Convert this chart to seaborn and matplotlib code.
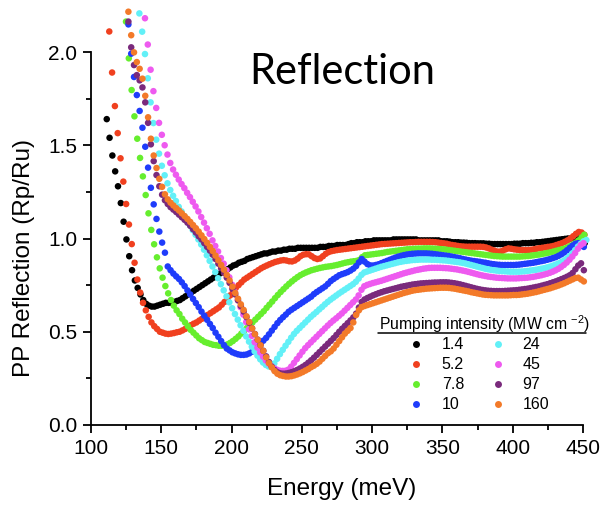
import numpy as np
import pandas as pd
import matplotlib
matplotlib.use("Agg")
import matplotlib.pyplot as plt
from matplotlib.lines import Line2D
from matplotlib.ticker import MultipleLocator, FormatStrFormatter
import seaborn as sns

# ---------------- data ----------------
intensity_labels = ["1.4", "5.2", "7.8", "10", "24", "45", "97", "160"]
series_colors = ["#000000", "#f0401f", "#66ee2e", "#1f3cfb",
                 "#62f0f7", "#ee5aef", "#7a2a7c", "#f37a29"]
start_energy = [111.2, 113.0, 124.9, 126.6, 134.4, 138.4, 126.6, 126.6]  # meV
energy_step = 2.0  # meV

refl_1_4 = [
    1.64, 1.54, 1.445, 1.36, 1.28, 1.19, 1.09, 0.995, 0.905, 0.83,
    0.775, 0.735, 0.70, 0.67, 0.65, 0.64, 0.635, 0.635, 0.64, 0.645,
    0.65, 0.655, 0.655, 0.655, 0.66, 0.665, 0.67, 0.68, 0.69, 0.70,
    0.71, 0.72, 0.73, 0.74, 0.75, 0.76, 0.77, 0.78, 0.79, 0.80,
    0.81, 0.82, 0.83, 0.835, 0.845, 0.855, 0.86, 0.87, 0.875, 0.88,
    0.89, 0.895, 0.90, 0.905, 0.91, 0.915, 0.92, 0.92, 0.925, 0.93,
    0.93, 0.935, 0.935, 0.94, 0.94, 0.945, 0.945, 0.945, 0.95, 0.95,
    0.95, 0.95, 0.95, 0.95, 0.95, 0.95, 0.955, 0.955, 0.955, 0.96,
    0.96, 0.96, 0.965, 0.965, 0.965, 0.965, 0.97, 0.975, 0.975, 0.98,
    0.98, 0.98, 0.985, 0.985, 0.985, 0.99, 0.99, 0.99, 0.99, 0.99,
    0.99, 0.99, 0.995, 0.995, 0.995, 0.995, 0.995, 0.995, 0.995, 0.995,
    0.995, 0.99, 0.99, 0.99, 0.99, 0.99, 0.99, 0.99, 0.99, 0.985,
    0.985, 0.985, 0.983, 0.98, 0.98, 0.98, 0.978, 0.978, 0.977, 0.975,
    0.975, 0.975, 0.974, 0.974, 0.974, 0.972, 0.972, 0.97, 0.97, 0.97,
    0.97, 0.97, 0.97, 0.97, 0.97, 0.972, 0.972, 0.972, 0.975, 0.975,
    0.975, 0.977, 0.977, 0.98, 0.98, 0.982, 0.984, 0.986, 0.988, 0.99,
    0.992, 0.994, 0.996, 0.998, 1.0, 1.0, 1.005, 1.01, 1.005, 0.99,
    0.975,
]

refl_5_2 = [
    2.11, 1.89, 1.71, 1.565, 1.43, 1.305, 1.185, 1.075, 0.97, 0.87,
    0.78, 0.71, 0.655, 0.615, 0.58, 0.55, 0.53, 0.515, 0.50, 0.495,
    0.49, 0.488, 0.49, 0.493, 0.497, 0.50, 0.507, 0.515, 0.525, 0.535,
    0.543, 0.55, 0.56, 0.57, 0.58, 0.59, 0.60, 0.61, 0.62, 0.63,
    0.645, 0.66, 0.675, 0.695, 0.715, 0.735, 0.75, 0.765, 0.78, 0.79,
    0.80, 0.81, 0.82, 0.83, 0.84, 0.848, 0.855, 0.862, 0.868, 0.874,
    0.878, 0.882, 0.884, 0.882, 0.878, 0.877, 0.882, 0.892, 0.905, 0.913,
    0.916, 0.915, 0.905, 0.895, 0.89, 0.893, 0.905, 0.918, 0.927, 0.932,
    0.935, 0.938, 0.94, 0.942, 0.944, 0.946, 0.948, 0.95, 0.952, 0.954,
    0.956, 0.958, 0.96, 0.962, 0.964, 0.966, 0.968, 0.97, 0.971, 0.972,
    0.973, 0.974, 0.975, 0.976, 0.977, 0.978, 0.979, 0.98, 0.98, 0.981,
    0.982, 0.982, 0.982, 0.982, 0.982, 0.981, 0.98, 0.978, 0.976, 0.974,
    0.972, 0.968, 0.965, 0.963, 0.96, 0.958, 0.957, 0.956, 0.956, 0.956,
    0.956, 0.956, 0.956, 0.955, 0.952, 0.947, 0.94, 0.935, 0.93, 0.93,
    0.935, 0.942, 0.947, 0.945, 0.942, 0.94, 0.938, 0.938, 0.938, 0.938,
    0.94, 0.942, 0.945, 0.948, 0.95, 0.952, 0.955, 0.957, 0.96, 0.965,
    0.97, 0.975, 0.982, 0.99, 1.0, 1.012, 1.025, 1.035, 1.032, 1.02,
]

refl_7_8 = [
    2.163, 1.966, 1.796, 1.655, 1.535, 1.432, 1.333, 1.233, 1.135, 1.046,
    0.969, 0.899, 0.84, 0.79, 0.745, 0.706, 0.67, 0.64, 0.615, 0.595,
    0.57, 0.55, 0.53, 0.51, 0.495, 0.48, 0.465, 0.455, 0.445, 0.44,
    0.435, 0.43, 0.428, 0.425, 0.425, 0.427, 0.432, 0.44, 0.45, 0.462,
    0.475, 0.49, 0.505, 0.52, 0.535, 0.55, 0.565, 0.58, 0.595, 0.61,
    0.628, 0.645, 0.662, 0.68, 0.697, 0.713, 0.728, 0.743, 0.757, 0.77,
    0.782, 0.793, 0.803, 0.811, 0.818, 0.824, 0.83, 0.834, 0.838, 0.842,
    0.845, 0.848, 0.85, 0.852, 0.855, 0.858, 0.862, 0.866, 0.87, 0.873,
    0.876, 0.878, 0.88, 0.885, 0.90, 0.91, 0.912, 0.914, 0.916, 0.918,
    0.92, 0.922, 0.925, 0.928, 0.93, 0.932, 0.934, 0.936, 0.938, 0.94,
    0.942, 0.943, 0.944, 0.945, 0.946, 0.946, 0.947, 0.947, 0.947, 0.946,
    0.945, 0.944, 0.943, 0.942, 0.94, 0.938, 0.936, 0.934, 0.932, 0.93,
    0.928, 0.926, 0.924, 0.922, 0.92, 0.918, 0.916, 0.914, 0.912, 0.91,
    0.908, 0.906, 0.905, 0.904, 0.903, 0.903, 0.903, 0.903, 0.903, 0.903,
    0.903, 0.904, 0.905, 0.906, 0.908, 0.91, 0.912, 0.914, 0.917, 0.92,
    0.923, 0.926, 0.93, 0.934, 0.938, 0.942, 0.946, 0.952, 0.96, 0.968,
    0.978, 0.99, 1.005, 1.02,
]

refl_10 = [
    2.148, 1.991, 1.866, 1.769, 1.684, 1.594, 1.492, 1.38, 1.272, 1.183,
    1.105, 1.037, 0.978, 0.924, 0.85, 0.83, 0.812, 0.797, 0.783, 0.765,
    0.745, 0.722, 0.70, 0.676, 0.654, 0.632, 0.608, 0.586, 0.564, 0.542,
    0.52, 0.495, 0.473, 0.45, 0.428, 0.41, 0.40, 0.39, 0.384, 0.379,
    0.376, 0.376, 0.378, 0.384, 0.393, 0.407, 0.422, 0.437, 0.452, 0.467,
    0.486, 0.506, 0.526, 0.546, 0.563, 0.578, 0.592, 0.607, 0.618, 0.628,
    0.638, 0.648, 0.658, 0.668, 0.678, 0.688, 0.702, 0.713, 0.723, 0.733,
    0.743, 0.757, 0.772, 0.783, 0.793, 0.803, 0.809, 0.814, 0.82, 0.828,
    0.838, 0.852, 0.872, 0.89, 0.876, 0.863, 0.856, 0.855, 0.858, 0.862,
    0.868, 0.874, 0.88, 0.886, 0.892, 0.898, 0.903, 0.907, 0.911, 0.914,
    0.916, 0.918, 0.919, 0.92, 0.92, 0.92, 0.92, 0.919, 0.918, 0.916,
    0.914, 0.912, 0.91, 0.908, 0.906, 0.903, 0.9, 0.897, 0.894, 0.89,
    0.887, 0.884, 0.881, 0.879, 0.877, 0.875, 0.872, 0.87, 0.867, 0.864,
    0.862, 0.86, 0.859, 0.858, 0.858, 0.858, 0.858, 0.858, 0.859, 0.86,
    0.862, 0.864, 0.866, 0.868, 0.87, 0.873, 0.876, 0.879, 0.882, 0.886,
    0.89, 0.895, 0.9, 0.907, 0.915, 0.925, 0.937, 0.95, 0.962, 0.972,
    0.975, 0.965, 0.955,
]

refl_24 = [
    2.207, 2.109, 1.989, 1.859, 1.73, 1.619, 1.53, 1.455, 1.39, 1.339,
    1.296, 1.26, 1.229, 1.201, 1.17, 1.145, 1.12, 1.095, 1.07, 1.045,
    1.02, 0.995, 0.968, 0.94, 0.91, 0.88, 0.85, 0.82, 0.787, 0.755,
    0.722, 0.69, 0.658, 0.626, 0.595, 0.565, 0.535, 0.505, 0.475, 0.447,
    0.42, 0.395, 0.372, 0.352, 0.335, 0.322, 0.314, 0.315, 0.33, 0.355,
    0.38, 0.403, 0.425, 0.446, 0.468, 0.488, 0.505, 0.52, 0.535, 0.55,
    0.565, 0.58, 0.593, 0.606, 0.62, 0.633, 0.647, 0.66, 0.672, 0.683,
    0.694, 0.705, 0.715, 0.725, 0.735, 0.745, 0.755, 0.768, 0.785, 0.805,
    0.818, 0.823, 0.828, 0.833, 0.838, 0.843, 0.848, 0.852, 0.856, 0.86,
    0.864, 0.868, 0.872, 0.875, 0.878, 0.88, 0.882, 0.884, 0.885, 0.886,
    0.887, 0.887, 0.887, 0.887, 0.886, 0.886, 0.885, 0.884, 0.883, 0.882,
    0.88, 0.878, 0.876, 0.874, 0.872, 0.869, 0.866, 0.862, 0.858, 0.854,
    0.85, 0.846, 0.842, 0.838, 0.835, 0.832, 0.83, 0.828, 0.826, 0.825,
    0.824, 0.823, 0.822, 0.822, 0.822, 0.822, 0.823, 0.824, 0.826, 0.828,
    0.83, 0.832, 0.835, 0.838, 0.841, 0.845, 0.849, 0.854, 0.86, 0.866,
    0.873, 0.882, 0.892, 0.905, 0.92, 0.938, 0.957, 0.972, 0.985, 0.992,
]

refl_45 = [
    2.181, 2.04, 1.905, 1.79, 1.70, 1.62, 1.556, 1.50, 1.45, 1.405,
    1.37, 1.342, 1.316, 1.292, 1.27, 1.245, 1.222, 1.197, 1.172, 1.145,
    1.115, 1.085, 1.055, 1.025, 0.99, 0.96, 0.93, 0.895, 0.865, 0.83,
    0.792, 0.752, 0.712, 0.672, 0.632, 0.592, 0.552, 0.513, 0.478, 0.444,
    0.415, 0.389, 0.366, 0.346, 0.329, 0.315, 0.304, 0.296, 0.291, 0.29,
    0.291, 0.297, 0.313, 0.333, 0.353, 0.373, 0.393, 0.412, 0.428, 0.443,
    0.458, 0.473, 0.488, 0.503, 0.518, 0.533, 0.547, 0.56, 0.572, 0.585,
    0.598, 0.613, 0.628, 0.643, 0.658, 0.673, 0.695, 0.725, 0.744, 0.751,
    0.756, 0.761, 0.765, 0.769, 0.773, 0.778, 0.783, 0.788, 0.793, 0.798,
    0.803, 0.808, 0.813, 0.817, 0.821, 0.825, 0.829, 0.832, 0.835, 0.838,
    0.84, 0.842, 0.843, 0.843, 0.843, 0.843, 0.842, 0.841, 0.84, 0.838,
    0.836, 0.834, 0.831, 0.828, 0.825, 0.821, 0.817, 0.813, 0.809, 0.805,
    0.802, 0.799, 0.796, 0.794, 0.792, 0.79, 0.789, 0.788, 0.787, 0.786,
    0.786, 0.786, 0.786, 0.787, 0.788, 0.789, 0.79, 0.792, 0.794, 0.797,
    0.80, 0.803, 0.807, 0.811, 0.816, 0.822, 0.829, 0.837, 0.847, 0.858,
    0.871, 0.886, 0.903, 0.922, 0.945, 0.965, 0.975,
]

refl_97 = [
    2.163, 2.025, 1.93, 1.876, 1.848, 1.81, 1.73, 1.62, 1.505, 1.415,
    1.34, 1.28, 1.235, 1.205, 1.185, 1.168, 1.155, 1.142, 1.128, 1.114,
    1.10, 1.085, 1.068, 1.05, 1.032, 1.012, 0.995, 0.975, 0.955, 0.935,
    0.913, 0.89, 0.865, 0.84, 0.815, 0.79, 0.762, 0.73, 0.70, 0.668,
    0.638, 0.608, 0.578, 0.548, 0.518, 0.488, 0.458, 0.428, 0.398, 0.368,
    0.338, 0.313, 0.295, 0.283, 0.277, 0.275, 0.276, 0.279, 0.283, 0.288,
    0.295, 0.303, 0.312, 0.322, 0.334, 0.347, 0.361, 0.376, 0.391, 0.406,
    0.421, 0.436, 0.451, 0.466, 0.483, 0.50, 0.516, 0.531, 0.546, 0.561,
    0.577, 0.597, 0.63, 0.66, 0.673, 0.681, 0.688, 0.695, 0.701, 0.707,
    0.712, 0.717, 0.721, 0.725, 0.729, 0.733, 0.737, 0.741, 0.744, 0.747,
    0.75, 0.753, 0.755, 0.757, 0.759, 0.76, 0.761, 0.762, 0.763, 0.764,
    0.764, 0.765, 0.765, 0.765, 0.764, 0.762, 0.76, 0.757, 0.754, 0.75,
    0.746, 0.742, 0.738, 0.734, 0.73, 0.727, 0.724, 0.722, 0.72, 0.719,
    0.718, 0.718, 0.718, 0.718, 0.719, 0.72, 0.721, 0.722, 0.723, 0.725,
    0.727, 0.729, 0.731, 0.734, 0.737, 0.74, 0.743, 0.747, 0.751, 0.755,
    0.76, 0.765, 0.77, 0.776, 0.782, 0.788, 0.795, 0.803, 0.815, 0.835,
    0.855, 0.867, 0.83,
]

refl_160 = [
    2.216, 2.09, 1.998, 1.946, 1.91, 1.857, 1.765, 1.65, 1.535, 1.445,
    1.378, 1.32, 1.277, 1.237, 1.21, 1.192, 1.177, 1.163, 1.15, 1.135,
    1.12, 1.105, 1.089, 1.072, 1.055, 1.037, 1.017, 0.997, 0.977, 0.955,
    0.933, 0.908, 0.883, 0.858, 0.833, 0.805, 0.775, 0.742, 0.708, 0.677,
    0.647, 0.617, 0.583, 0.552, 0.518, 0.487, 0.457, 0.427, 0.397, 0.363,
    0.332, 0.309, 0.289, 0.275, 0.267, 0.263, 0.26, 0.26, 0.262, 0.266,
    0.271, 0.277, 0.284, 0.292, 0.30, 0.31, 0.318, 0.328, 0.34, 0.355,
    0.37, 0.385, 0.395, 0.41, 0.43, 0.45, 0.47, 0.49, 0.505, 0.52,
    0.55, 0.59, 0.615, 0.632, 0.638, 0.643, 0.648, 0.653, 0.658, 0.663,
    0.668, 0.673, 0.678, 0.683, 0.688, 0.693, 0.698, 0.703, 0.708, 0.712,
    0.716, 0.72, 0.723, 0.725, 0.727, 0.729, 0.731, 0.732, 0.733, 0.734,
    0.735, 0.736, 0.736, 0.736, 0.735, 0.733, 0.731, 0.728, 0.725, 0.722,
    0.719, 0.716, 0.712, 0.709, 0.706, 0.703, 0.70, 0.698, 0.697, 0.696,
    0.695, 0.695, 0.695, 0.695, 0.695, 0.695, 0.696, 0.697, 0.697, 0.698,
    0.70, 0.702, 0.704, 0.707, 0.71, 0.713, 0.717, 0.721, 0.725, 0.729,
    0.733, 0.738, 0.743, 0.748, 0.754, 0.76, 0.767, 0.774, 0.781, 0.788,
    0.79, 0.78, 0.77,
]

series_values = [refl_1_4, refl_5_2, refl_7_8, refl_10,
                 refl_24, refl_45, refl_97, refl_160]

frames = []
for lab, e0, vals in zip(intensity_labels, start_energy, series_values):
    energy = e0 + energy_step * np.arange(len(vals))
    frames.append(pd.DataFrame({"Energy": energy,
                                "Reflection": vals,
                                "Intensity": lab}))
df = pd.concat(frames, ignore_index=True)

# ---------------- figure ----------------
sns.set_theme(style="ticks")
plt.rcParams["font.family"] = ["Liberation Sans", "DejaVu Sans"]
plt.rcParams["mathtext.fontset"] = "custom"
plt.rcParams["mathtext.rm"] = "Liberation Sans"

W, H = 608, 509
fig = plt.figure(figsize=(W / 100, H / 100), dpi=100)
ax = fig.add_axes([91 / W, 1 - 425 / H, 492 / W, 373 / H])

sns.scatterplot(data=df, x="Energy", y="Reflection", hue="Intensity",
                hue_order=intensity_labels, palette=series_colors,
                s=22, linewidth=0, alpha=1, legend=False, ax=ax,
                clip_on=False, zorder=3)

ax.set_xlim(100, 450)
ax.set_ylim(0, 2.0)
sns.despine(ax=ax)
for side in ["left", "bottom"]:
    ax.spines[side].set_linewidth(1.3)
    ax.spines[side].set_color("black")

ax.xaxis.set_major_locator(MultipleLocator(50))
ax.xaxis.set_minor_locator(MultipleLocator(25))
ax.yaxis.set_major_locator(MultipleLocator(0.5))
ax.yaxis.set_minor_locator(MultipleLocator(0.25))
ax.yaxis.set_major_formatter(FormatStrFormatter("%.1f"))
ax.tick_params(which="major", direction="out", length=6, width=1.3,
               labelsize=15, pad=4, color="black", labelcolor="black")
ax.tick_params(which="minor", direction="out", length=3.5, width=1.3,
               color="black")

ax.set_xlabel("Energy (meV)", fontsize=17.5, color="black")
ax.set_ylabel("PP Reflection (Rp/Ru)", fontsize=17.5, color="black")
ax.xaxis.set_label_coords(0.51, -0.142)
ax.yaxis.set_label_coords(-0.114, 0.448)

# chart title
fig.text(342 / W, 1 - 72 / H, "Reflection", fontsize=30,
         family=["Lato", "DejaVu Sans"], ha="center", va="center",
         color="black")

# legend (title, underline and two columns of entries)
fig.text(484.5 / W, 1 - 324 / H,
         r"Pumping intensity (MW cm $^{\mathregular{-2}}$)",
         fontsize=11.3, ha="center", va="center", color="black")
fig.add_artist(Line2D([378 / W, 586 / W], [1 - 333 / H, 1 - 333 / H],
                      color="black", lw=1.1, transform=fig.transFigure))
col_marker_x = [415.7, 497.7]
col_text_x = [441.7, 522.7]
row_y = [344.3, 364.3, 384.3, 404.3]
for i, (lab, col) in enumerate(zip(intensity_labels, series_colors)):
    c, r = divmod(i, 4)
    fy = 1 - row_y[r] / H
    fig.add_artist(Line2D([col_marker_x[c] / W], [fy], marker="o",
                          markersize=5, markeredgewidth=0,
                          markerfacecolor=col, linestyle="none",
                          transform=fig.transFigure))
    fig.text(col_text_x[c] / W, fy, lab, fontsize=11.5, ha="left",
             va="center", color="black")

fig.savefig("out.png", dpi=100)
